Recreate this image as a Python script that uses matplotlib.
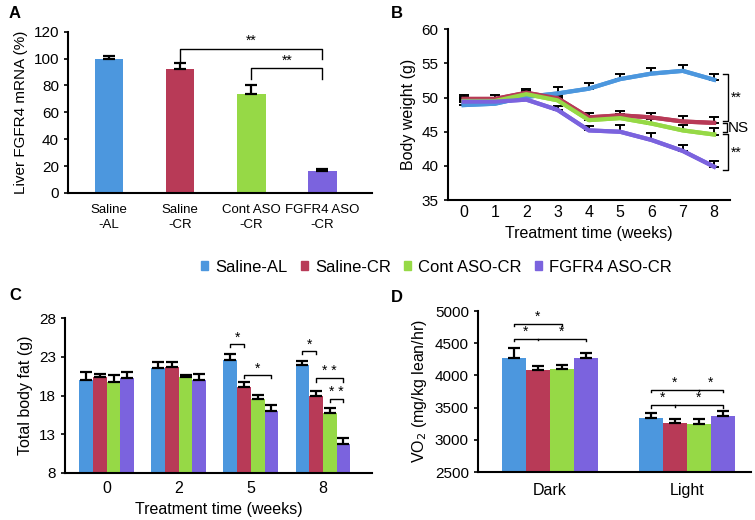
import numpy as np
import matplotlib.pyplot as plt
from matplotlib.patches import Patch

plt.rcParams['font.family'] = ['Liberation Sans', 'DejaVu Sans']
plt.rcParams['font.size'] = 11

groups = ["Saline-AL", "Saline-CR", "Cont ASO-CR", "FGFR4 ASO-CR"]
colors = ["#4c97de", "#b83a57", "#96d946", "#7b63de"]

# panel A
a_labels = ["Saline\n-AL", "Saline\n-CR", "Cont ASO\n-CR", "FGFR4 ASO\n-CR"]
a_vals = [100, 92, 74, 16]
a_err = [2, 5, 6, 1.5]

# panel B
weeks = [0, 1, 2, 3, 4, 5, 6, 7, 8]
b_vals = {
    "Saline-AL": [48.9, 49.1, 50.1, 50.6, 51.3, 52.7, 53.5, 53.9, 52.6],
    "Saline-CR": [49.8, 49.8, 50.7, 49.9, 47.1, 47.4, 47.1, 46.5, 46.3],
    "Cont ASO-CR": [49.5, 49.5, 50.5, 49.6, 46.7, 47.0, 46.2, 45.2, 44.6],
    "FGFR4 ASO-CR": [49.4, 49.4, 49.7, 48.2, 45.2, 45.0, 43.8, 42.2, 39.9],
}
b_err = {
    "Saline-AL": [0.7, 0.6, 0.6, 0.9, 0.8, 0.8, 0.8, 0.8, 0.8],
    "Saline-CR": [0.6, 0.5, 0.5, 0.6, 0.6, 0.6, 0.6, 0.8, 0.9],
    "Cont ASO-CR": [0.6, 0.5, 0.5, 0.6, 0.6, 0.6, 0.6, 0.8, 0.9],
    "FGFR4 ASO-CR": [0.6, 0.5, 0.5, 0.6, 0.6, 1.0, 1.0, 0.9, 0.8],
}

# panel C
c_weeks = ["0", "2", "5", "8"]
c_vals = {
    "Saline-AL": [20.0, 21.5, 22.6, 21.9],
    "Saline-CR": [20.4, 21.7, 19.1, 18.0],
    "Cont ASO-CR": [19.8, 20.4, 17.5, 15.7],
    "FGFR4 ASO-CR": [20.2, 20.0, 16.0, 11.7],
}
c_err = {
    "Saline-AL": [1.0, 0.8, 0.8, 0.5],
    "Saline-CR": [0.4, 0.6, 0.6, 0.6],
    "Cont ASO-CR": [0.8, 0.3, 0.6, 0.7],
    "FGFR4 ASO-CR": [0.8, 0.8, 0.8, 0.8],
}

# panel D
d_phase = ["Dark", "Light"]
d_vals = {
    "Saline-AL": [4270, 3335],
    "Saline-CR": [4090, 3265],
    "Cont ASO-CR": [4100, 3248],
    "FGFR4 ASO-CR": [4270, 3370],
}
d_err = {
    "Saline-AL": [150, 80],
    "Saline-CR": [60, 60],
    "Cont ASO-CR": [60, 70],
    "FGFR4 ASO-CR": [80, 80],
}

fig = plt.figure(figsize=(7.55, 5.2), dpi=100)
ekw = dict(fmt="none", ecolor="black", elinewidth=1.6, capsize=4, capthick=1.6)


def style(ax):
    ax.spines["top"].set_visible(False)
    ax.spines["right"].set_visible(False)
    ax.spines["left"].set_linewidth(1.5)
    ax.spines["bottom"].set_linewidth(1.5)
    ax.tick_params(width=1.2, length=3, labelsize=11)


def bracket(ax, x1, x2, y, h1, h2, txt, mid=None):
    ax.plot([x1, x1, x2, x2], [y - h1, y, y, y - h2], color="black", lw=1)
    if mid is not None:
        for m in mid:
            ax.plot([m, m], [y, y - h1 * 0.6], color="black", lw=1)
    if txt:
        ax.text((x1 + x2) / 2, y, txt, ha="center", va="bottom", fontsize=10)


# A
ax = fig.add_axes([0.090, 0.629, 0.403, 0.310])
xa = np.arange(4)
ax.bar(xa, a_vals, width=0.4, color=colors)
ax.errorbar(xa, a_vals, yerr=[np.zeros(4), a_err], **ekw)
ax.set_xlim(-0.58, 3.7)
ax.set_ylim(0, 120)
ax.set_yticks(range(0, 121, 20))
ax.set_xticks(xa)
ax.set_xticklabels(a_labels)
ax.set_ylabel("Liver FGFR4 mRNA (%)", fontsize=11)
style(ax)
ax.tick_params(axis="x", length=0, pad=8, labelsize=9.5)
bracket(ax, 1, 3, 107, 9, 7, "")
ax.text(2, 113, "**", ha="center", va="center", fontsize=10)
bracket(ax, 2, 3, 93, 8, 8, "")
ax.text(2.5, 98.5, "**", ha="center", va="center", fontsize=10)
for lbl in ax.get_xticklabels():
    lbl.set_linespacing(1.35)

# B
ax = fig.add_axes([0.593, 0.615, 0.3735, 0.329])
for g, c in zip(groups, colors):
    ax.errorbar(weeks, b_vals[g], yerr=[np.zeros(9), b_err[g]], color=c, lw=3,
                ecolor="black", elinewidth=1.4, capsize=3.5, capthick=1.4)
for g, c in zip(groups, colors):
    ax.plot(weeks, b_vals[g], color=c, lw=3)
ax.set_xlim(-0.51, 8.5)
ax.set_ylim(35, 60)
ax.set_xticks(weeks)
ax.set_yticks(range(35, 61, 5))
ax.set_xlabel("Treatment time (weeks)", fontsize=11.5)
ax.set_ylabel("Body weight (g)", fontsize=11.5)
style(ax)
ax.tick_params(axis="x", length=0, labelsize=11.5)
kw = dict(color="black", lw=1, clip_on=False)
ax.plot([8.3, 8.45, 8.45, 8.3], [53.4, 53.4, 46.6, 46.6], **kw)
ax.text(8.55, 50, "**", ha="left", va="center", fontsize=10)
ax.plot([8.3, 8.4, 8.4, 8.3], [46.3, 46.3, 45.0, 45.0], **kw)
ax.text(8.45, 45.6, "NS", ha="left", va="center", fontsize=11)
ax.plot([8.3, 8.45, 8.45, 8.3], [44.7, 44.7, 39.4, 39.4], **kw)
ax.text(8.55, 42.0, "**", ha="left", va="center", fontsize=10)

# C
ax = fig.add_axes([0.086, 0.0904, 0.4066, 0.298])
xc = np.arange(4)
w = 0.19
for i, (g, c) in enumerate(zip(groups, colors)):
    xs = xc + (i - 1.5) * w
    ax.bar(xs, np.array(c_vals[g]) - 8, bottom=8, width=w, color=c)
    ax.errorbar(xs, c_vals[g], yerr=[np.zeros(4), c_err[g]], **ekw)
ax.set_xlim(-0.58, 3.68)
ax.set_ylim(8, 28)
ax.set_yticks([8, 13, 18, 23, 28])
ax.set_xticks(xc)
ax.set_xticklabels(c_weeks)
ax.set_xlabel("Treatment time (weeks)", fontsize=11.5)
ax.set_ylabel("Total body fat (g)", fontsize=11.5)
style(ax)
ax.tick_params(axis="x", length=0, pad=6, labelsize=11.5)
off = lambda k: (k - 1.5) * w
bracket(ax, 2 + off(0), 2 + off(1), 24.6, 0.4, 0.4, "*")
bracket(ax, 2 + off(1), 2 + off(3), 20.6, 0.4, 0.4, "*")
bracket(ax, 3 + off(0), 3 + off(1), 23.7, 0.4, 0.4, "*")
bracket(ax, 3 + off(1), 3 + off(3), 20.2, 0.4, 0.4, "* *")
bracket(ax, 3 + off(2), 3 + off(3), 17.6, 0.4, 0.4, "* *")

# D
ax = fig.add_axes([0.633, 0.0923, 0.3616, 0.3096])
xd = np.arange(2)
w = 0.175
for i, (g, c) in enumerate(zip(groups, colors)):
    xs = xd + (i - 1.5) * w
    ax.bar(xs, np.array(d_vals[g]) - 2500, bottom=2500, width=w, color=c)
    ax.errorbar(xs, d_vals[g], yerr=[np.zeros(2), d_err[g]], **ekw)
ax.set_xlim(-0.526, 1.467)
ax.set_ylim(2500, 5000)
ax.set_yticks(range(2500, 5001, 500))
ax.set_xticks(xd)
ax.set_xticklabels(d_phase)
ax.set_ylabel("VO$_2$ (mg/kg lean/hr)", fontsize=11.5)
style(ax)
ax.tick_params(axis="x", length=0, pad=8, labelsize=11.5)
off = lambda k: (k - 1.5) * w
bracket(ax, off(0), off(2), 4800, 40, 40, "*")
bracket(ax, off(0), off(3), 4570, 40, 40, "", mid=[off(1)])
ax.text((off(0) + off(1)) / 2, 4570, "*", ha="center", va="bottom", fontsize=10)
ax.text((off(1) + off(3)) / 2, 4570, "*", ha="center", va="bottom", fontsize=10)
bracket(ax, 1 + off(0), 1 + off(3), 3780, 40, 40, "", mid=[1 + off(2)])
ax.text(1 + (off(0) + off(2)) / 2, 3780, "*", ha="center", va="bottom", fontsize=10)
ax.text(1 + (off(2) + off(3)) / 2, 3780, "*", ha="center", va="bottom", fontsize=10)
bracket(ax, 1 + off(0), 1 + off(3), 3540, 40, 40, "", mid=[1 + off(1)])
ax.text(1 + (off(0) + off(1)) / 2, 3540, "*", ha="center", va="bottom", fontsize=10)
ax.text(1 + (off(1) + off(3)) / 2, 3540, "*", ha="center", va="bottom", fontsize=10)

# legend
handles = [Patch(color=c, label=g) for g, c in zip(groups, colors)]
fig.legend(handles=handles, loc="center", bbox_to_anchor=(0.578, 0.486), ncol=4,
           frameon=False, handlelength=0.45, handleheight=0.45, handletextpad=0.4,
           columnspacing=0.8, fontsize=12)

# panel letters
for t, x, y in [("A", 0.012, 0.975), ("B", 0.518, 0.975), ("C", 0.012, 0.432), ("D", 0.518, 0.428)]:
    fig.text(x, y, t, fontsize=12, fontweight="bold", ha="left", va="center")

fig.savefig("out.png", dpi=100)
